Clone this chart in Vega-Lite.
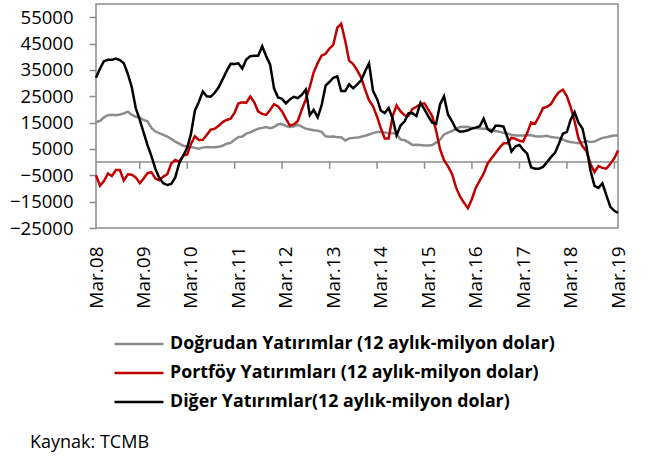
{
"$schema":"https://vega.github.io/schema/vega-lite/v6.json",
"width":522,"height":224,
"autosize":{"type":"none"},
"padding":{"left":96,"top":4,"right":34,"bottom":229},
"background":"white",
"config":{"view":{"stroke":"#8c8c8c","strokeWidth":1.5},"font":"Open Sans","axis":{"labelOverlap":false,"labelFlush":false}},
"title":{"text":"Kaynak: TCMB","orient":"bottom","anchor":"start","frame":"group","font":"Open Sans","fontSize":18,"fontWeight":"normal","color":"#000","dx":-66,"offset":22},
"data":{"values":[
{"t":"2008-03-01","dogrudan":15200,"portfoy":-5000,"diger":32000},
{"t":"2008-04-01","dogrudan":15600,"portfoy":-9000,"diger":35500},
{"t":"2008-05-01","dogrudan":17000,"portfoy":-7200,"diger":38300},
{"t":"2008-06-01","dogrudan":17800,"portfoy":-4300,"diger":38800},
{"t":"2008-07-01","dogrudan":18000,"portfoy":-5300,"diger":38800},
{"t":"2008-08-01","dogrudan":17800,"portfoy":-3000,"diger":39300},
{"t":"2008-09-01","dogrudan":18100,"portfoy":-3000,"diger":38700},
{"t":"2008-10-01","dogrudan":18500,"portfoy":-7000,"diger":37500},
{"t":"2008-11-01","dogrudan":19100,"portfoy":-4600,"diger":33500},
{"t":"2008-12-01","dogrudan":18000,"portfoy":-4800,"diger":28500},
{"t":"2009-01-01","dogrudan":17200,"portfoy":-5800,"diger":20500},
{"t":"2009-02-01","dogrudan":16800,"portfoy":-8000,"diger":16000},
{"t":"2009-03-01","dogrudan":16000,"portfoy":-6300,"diger":11500},
{"t":"2009-04-01","dogrudan":15500,"portfoy":-4200,"diger":6500},
{"t":"2009-05-01","dogrudan":13000,"portfoy":-3800,"diger":2400},
{"t":"2009-06-01","dogrudan":11600,"portfoy":-6200,"diger":-2500},
{"t":"2009-07-01","dogrudan":11000,"portfoy":-6900,"diger":-6000},
{"t":"2009-08-01","dogrudan":10300,"portfoy":-5500,"diger":-8000},
{"t":"2009-09-01","dogrudan":9700,"portfoy":-4600,"diger":-8700},
{"t":"2009-10-01","dogrudan":8800,"portfoy":-500,"diger":-8300},
{"t":"2009-11-01","dogrudan":7800,"portfoy":800,"diger":-5800},
{"t":"2009-12-01","dogrudan":7000,"portfoy":200,"diger":-500},
{"t":"2010-01-01","dogrudan":6200,"portfoy":2500,"diger":2400},
{"t":"2010-02-01","dogrudan":5900,"portfoy":2900,"diger":5500},
{"t":"2010-03-01","dogrudan":5700,"portfoy":6800,"diger":10500},
{"t":"2010-04-01","dogrudan":5400,"portfoy":9800,"diger":19500},
{"t":"2010-05-01","dogrudan":5100,"portfoy":8400,"diger":22800},
{"t":"2010-06-01","dogrudan":5500,"portfoy":8500,"diger":26800},
{"t":"2010-07-01","dogrudan":5700,"portfoy":10300,"diger":25000},
{"t":"2010-08-01","dogrudan":5600,"portfoy":12300,"diger":24800},
{"t":"2010-09-01","dogrudan":5600,"portfoy":12700,"diger":26300},
{"t":"2010-10-01","dogrudan":5800,"portfoy":13800,"diger":28400},
{"t":"2010-11-01","dogrudan":6200,"portfoy":15200,"diger":31500},
{"t":"2010-12-01","dogrudan":7000,"portfoy":16000,"diger":34500},
{"t":"2011-01-01","dogrudan":7300,"portfoy":16500,"diger":37300},
{"t":"2011-02-01","dogrudan":8500,"portfoy":18800,"diger":37200},
{"t":"2011-03-01","dogrudan":9500,"portfoy":22200,"diger":37500},
{"t":"2011-04-01","dogrudan":9700,"portfoy":22700,"diger":35500},
{"t":"2011-05-01","dogrudan":10800,"portfoy":22500,"diger":38900},
{"t":"2011-06-01","dogrudan":11300,"portfoy":24900,"diger":40200},
{"t":"2011-07-01","dogrudan":12000,"portfoy":22800,"diger":40400},
{"t":"2011-08-01","dogrudan":12700,"portfoy":19200,"diger":40400},
{"t":"2011-09-01","dogrudan":13000,"portfoy":18300,"diger":44000},
{"t":"2011-10-01","dogrudan":13300,"portfoy":17900,"diger":40300},
{"t":"2011-11-01","dogrudan":12900,"portfoy":19800,"diger":37000},
{"t":"2011-12-01","dogrudan":13300,"portfoy":22000,"diger":28000},
{"t":"2012-01-01","dogrudan":14400,"portfoy":21100,"diger":24500},
{"t":"2012-02-01","dogrudan":14500,"portfoy":19200,"diger":24000},
{"t":"2012-03-01","dogrudan":13700,"portfoy":16500,"diger":22300},
{"t":"2012-04-01","dogrudan":13300,"portfoy":13900,"diger":23800},
{"t":"2012-05-01","dogrudan":13500,"portfoy":14300,"diger":24800},
{"t":"2012-06-01","dogrudan":14200,"portfoy":15600,"diger":24300},
{"t":"2012-07-01","dogrudan":13500,"portfoy":19800,"diger":25500},
{"t":"2012-08-01","dogrudan":12700,"portfoy":23800,"diger":27500},
{"t":"2012-09-01","dogrudan":12400,"portfoy":28500,"diger":17800},
{"t":"2012-10-01","dogrudan":12100,"portfoy":34000,"diger":19800},
{"t":"2012-11-01","dogrudan":11900,"portfoy":37600,"diger":17000},
{"t":"2012-12-01","dogrudan":11500,"portfoy":40400,"diger":21500},
{"t":"2013-01-01","dogrudan":9800,"portfoy":41100,"diger":29000},
{"t":"2013-02-01","dogrudan":9600,"portfoy":43200,"diger":30500},
{"t":"2013-03-01","dogrudan":9700,"portfoy":44500,"diger":32000},
{"t":"2013-04-01","dogrudan":9400,"portfoy":51000,"diger":32500},
{"t":"2013-05-01","dogrudan":9400,"portfoy":52500,"diger":27000},
{"t":"2013-06-01","dogrudan":8200,"portfoy":46000,"diger":27000},
{"t":"2013-07-01","dogrudan":9000,"portfoy":38500,"diger":29500},
{"t":"2013-08-01","dogrudan":9200,"portfoy":37200,"diger":28000},
{"t":"2013-09-01","dogrudan":9300,"portfoy":34800,"diger":29500},
{"t":"2013-10-01","dogrudan":9600,"portfoy":32200,"diger":31000},
{"t":"2013-11-01","dogrudan":10000,"portfoy":27500,"diger":34500},
{"t":"2013-12-01","dogrudan":10500,"portfoy":23500,"diger":37500},
{"t":"2014-01-01","dogrudan":11000,"portfoy":21200,"diger":27000},
{"t":"2014-02-01","dogrudan":11400,"portfoy":17200,"diger":24000},
{"t":"2014-03-01","dogrudan":11400,"portfoy":13000,"diger":19600},
{"t":"2014-04-01","dogrudan":11200,"portfoy":9000,"diger":18600},
{"t":"2014-05-01","dogrudan":11000,"portfoy":9000,"diger":20500},
{"t":"2014-06-01","dogrudan":11000,"portfoy":17500,"diger":16500},
{"t":"2014-07-01","dogrudan":10700,"portfoy":21500,"diger":10200},
{"t":"2014-08-01","dogrudan":8600,"portfoy":19200,"diger":13900},
{"t":"2014-09-01","dogrudan":8300,"portfoy":17800,"diger":15500},
{"t":"2014-10-01","dogrudan":7500,"portfoy":17600,"diger":18500},
{"t":"2014-11-01","dogrudan":6500,"portfoy":20200,"diger":18500},
{"t":"2014-12-01","dogrudan":6600,"portfoy":21000,"diger":17500},
{"t":"2015-01-01","dogrudan":6500,"portfoy":22000,"diger":22500},
{"t":"2015-02-01","dogrudan":6300,"portfoy":22300,"diger":20000},
{"t":"2015-03-01","dogrudan":6300,"portfoy":20000,"diger":17500},
{"t":"2015-04-01","dogrudan":6500,"portfoy":17500,"diger":15000},
{"t":"2015-05-01","dogrudan":7400,"portfoy":12000,"diger":14500},
{"t":"2015-06-01","dogrudan":8500,"portfoy":4800,"diger":22000},
{"t":"2015-07-01","dogrudan":10500,"portfoy":700,"diger":25000},
{"t":"2015-08-01","dogrudan":11200,"portfoy":-1600,"diger":18000},
{"t":"2015-09-01","dogrudan":11800,"portfoy":-4500,"diger":15500},
{"t":"2015-10-01","dogrudan":12700,"portfoy":-9500,"diger":12500},
{"t":"2015-11-01","dogrudan":13300,"portfoy":-13000,"diger":11500},
{"t":"2015-12-01","dogrudan":13400,"portfoy":-15300,"diger":11700},
{"t":"2016-01-01","dogrudan":13300,"portfoy":-17500,"diger":12100},
{"t":"2016-02-01","dogrudan":13000,"portfoy":-14000,"diger":12700},
{"t":"2016-03-01","dogrudan":12900,"portfoy":-9800,"diger":13100},
{"t":"2016-04-01","dogrudan":12800,"portfoy":-7000,"diger":13600},
{"t":"2016-05-01","dogrudan":12700,"portfoy":-4400,"diger":16500},
{"t":"2016-06-01","dogrudan":12700,"portfoy":-500,"diger":12500},
{"t":"2016-07-01","dogrudan":12300,"portfoy":1500,"diger":11500},
{"t":"2016-08-01","dogrudan":11800,"portfoy":3500,"diger":13800},
{"t":"2016-09-01","dogrudan":11500,"portfoy":5500,"diger":13800},
{"t":"2016-10-01","dogrudan":11100,"portfoy":7200,"diger":13500},
{"t":"2016-11-01","dogrudan":10800,"portfoy":7200,"diger":9300},
{"t":"2016-12-01","dogrudan":10400,"portfoy":9300,"diger":4000},
{"t":"2017-01-01","dogrudan":10100,"portfoy":8800,"diger":6000},
{"t":"2017-02-01","dogrudan":10100,"portfoy":8100,"diger":6500},
{"t":"2017-03-01","dogrudan":10100,"portfoy":7800,"diger":4700},
{"t":"2017-04-01","dogrudan":10300,"portfoy":11000,"diger":3200},
{"t":"2017-05-01","dogrudan":10200,"portfoy":15000,"diger":-2000},
{"t":"2017-06-01","dogrudan":9800,"portfoy":14600,"diger":-2500},
{"t":"2017-07-01","dogrudan":9700,"portfoy":17300,"diger":-2500},
{"t":"2017-08-01","dogrudan":9800,"portfoy":20500,"diger":-1800},
{"t":"2017-09-01","dogrudan":10000,"portfoy":21000,"diger":0},
{"t":"2017-10-01","dogrudan":9500,"portfoy":22000,"diger":1900},
{"t":"2017-11-01","dogrudan":9300,"portfoy":24600,"diger":3500},
{"t":"2017-12-01","dogrudan":9200,"portfoy":26500,"diger":7000},
{"t":"2018-01-01","dogrudan":8500,"portfoy":27500,"diger":10800},
{"t":"2018-02-01","dogrudan":7900,"portfoy":25000,"diger":11500},
{"t":"2018-03-01","dogrudan":7600,"portfoy":21000,"diger":16000},
{"t":"2018-04-01","dogrudan":7400,"portfoy":15500,"diger":19000},
{"t":"2018-05-01","dogrudan":7200,"portfoy":9000,"diger":15000},
{"t":"2018-06-01","dogrudan":7500,"portfoy":6000,"diger":12700},
{"t":"2018-07-01","dogrudan":8000,"portfoy":4200,"diger":6000},
{"t":"2018-08-01","dogrudan":7600,"portfoy":-600,"diger":-3200},
{"t":"2018-09-01","dogrudan":7800,"portfoy":-3800,"diger":-9000},
{"t":"2018-10-01","dogrudan":8500,"portfoy":-1500,"diger":-9800},
{"t":"2018-11-01","dogrudan":9200,"portfoy":-2200,"diger":-8000},
{"t":"2018-12-01","dogrudan":9400,"portfoy":-2500,"diger":-12500},
{"t":"2019-01-01","dogrudan":9800,"portfoy":-600,"diger":-17000},
{"t":"2019-02-01","dogrudan":10100,"portfoy":1500,"diger":-18500},
{"t":"2019-03-01","dogrudan":10100,"portfoy":4400,"diger":-19300}
]},
"layer":[
{"data":{"values":[{"z":0}]},
 "mark":{"type":"rule","color":"#8c8c8c","strokeWidth":1.5},
 "encoding":{"y":{"datum":0}}},
{"data":{"values":[{"t":"2009-02-01"},{"t":"2010-02-01"},{"t":"2011-02-01"},{"t":"2012-02-01"},{"t":"2013-02-01"},{"t":"2014-02-01"},{"t":"2015-02-01"},{"t":"2016-02-01"},{"t":"2017-02-01"},{"t":"2018-02-01"},{"t":"2019-02-01"}]},
 "mark":{"type":"rule","color":"#8c8c8c","strokeWidth":1.5},
 "encoding":{"x":{"field":"t","type":"temporal"},"y":{"datum":0},"y2":{"datum":-2500}}},
{"transform":[{"fold":["dogrudan","portfoy","diger"],"as":["seri","deger"]}],
 "mark":{"type":"line","strokeWidth":2.5},
 "encoding":{
  "x":{"field":"t","type":"temporal",
   "scale":{"type":"utc","domain":[{"year":2008,"month":3,"date":1,"utc":true},{"year":2019,"month":3,"date":1,"utc":true}],"nice":false},
   "axis":{"title":null,"tickCount":30,"values":[{"year":2008,"month":3,"date":1,"utc":true},{"year":2009,"month":3,"date":1,"utc":true},{"year":2010,"month":3,"date":1,"utc":true},{"year":2011,"month":3,"date":1,"utc":true},{"year":2012,"month":3,"date":1,"utc":true},{"year":2013,"month":3,"date":1,"utc":true},{"year":2014,"month":3,"date":1,"utc":true},{"year":2015,"month":3,"date":1,"utc":true},{"year":2016,"month":3,"date":1,"utc":true},{"year":2017,"month":3,"date":1,"utc":true},{"year":2018,"month":3,"date":1,"utc":true},{"year":2019,"month":3,"date":1,"utc":true}],
    "format":"%b.%y","labelAngle":270,"labelFont":"Open Sans","labelFontSize":19,"labelColor":"#000","ticks":false,"domain":false,"grid":false,"labelPadding":18,"labelFlush":false,"labelOverlap":false}},
  "y":{"field":"deger","type":"quantitative",
   "scale":{"domain":[-25000,60000],"nice":false,"zero":false},
   "axis":{"title":null,"tickCount":30,"values":[-25000,-15000,-5000,5000,15000,25000,35000,45000,55000],"format":"d","labelFont":"Open Sans","labelFontSize":18.5,"labelColor":"#000","tickSize":7,"tickColor":"#8c8c8c","tickWidth":1.5,"labelPadding":16,"domain":false,"grid":false,"labelOverlap":false,"labelFlush":false}},
  "color":{"field":"seri","type":"nominal",
   "scale":{"domain":["dogrudan","portfoy","diger"],"range":["#8c8c8c","#c00000","#000000"]},
   "legend":{"orient":"none","legendX":17,"legendY":330,"direction":"vertical","title":null,"padding":0,"symbolType":"stroke","symbolSize":2400,"symbolStrokeWidth":2.5,"labelFont":"Open Sans","labelFontSize":17.8,"labelFontWeight":"bold","labelColor":"#000","labelOffset":5,"rowPadding":9,"clipHeight":20,"labelLimit":600,
    "labelExpr":"datum.value == 'dogrudan' ? 'Doğrudan Yatırımlar (12 aylık-milyon dolar)' : datum.value == 'portfoy' ? 'Portföy Yatırımları (12 aylık-milyon dolar)' : 'Diğer Yatırımlar(12 aylık-milyon dolar)'"}}
 }}
]
}
